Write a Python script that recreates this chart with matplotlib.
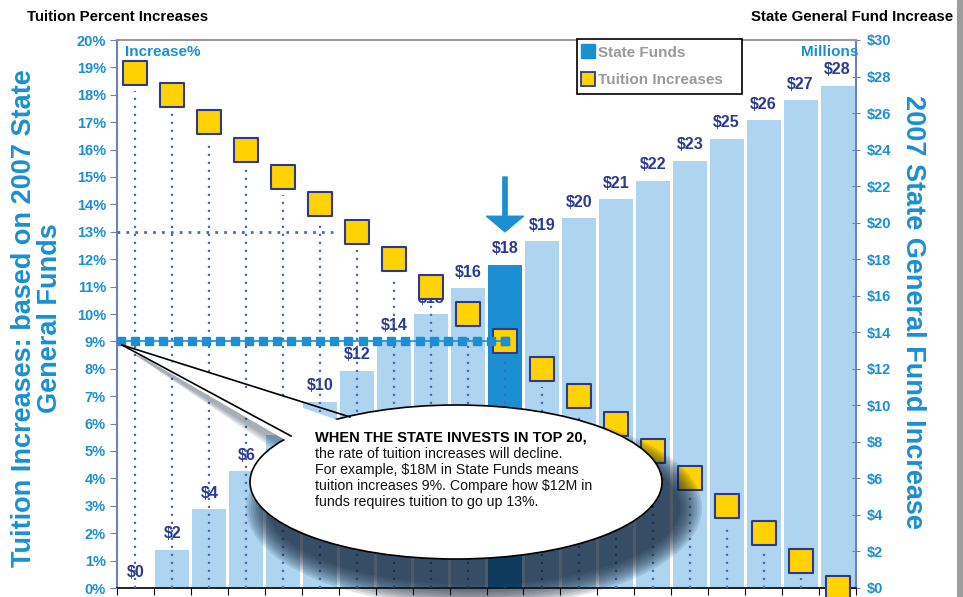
import numpy as np
import matplotlib
matplotlib.use("Agg")
import matplotlib.pyplot as plt
from matplotlib.patches import Ellipse, Polygon, Rectangle
from matplotlib.lines import Line2D

# ---------------- data ----------------
categories = list(range(20))
state_funds = [0, 2.1, 4.3, 6.4, 8.4, 10.2, 11.9, 13.5, 15.0, 16.4,
               17.7, 19.0, 20.25, 21.3, 22.3, 23.4, 24.6, 25.6, 26.7, 27.5]
fund_labels = ["$0", "$2", "$4", "$6", "$8", "$10", "$12", "$14", "$15", "$16",
               "$18", "$19", "$20", "$21", "$22", "$23", "$25", "$26", "$27", "$28"]
tuition_pct = [18.8, 18, 17, 16, 15, 14, 13, 12, 11, 10,
               9, 8, 7, 6, 5, 4, 3, 2, 1, 0]
highlight_idx = 10
left_ticks = list(range(0, 21))
left_tick_labels = [f"{v}%" for v in left_ticks]
right_ticks = list(range(0, 31, 2))
right_tick_labels = [f"${v}" for v in right_ticks]

# ---------------- style ----------------
BLUE = "#1B8FD2"
LIGHT = "#AED4F0"
NAVY = "#2B3990"
YELLOW = "#FFD200"
DOT = "#4A6CB8"
FONT = "Liberation Sans"
plt.rcParams["font.family"] = [FONT, "DejaVu Sans"]

W, H = 963, 597
fig = plt.figure(figsize=(W / 100, H / 100), dpi=100)
fig.patch.set_facecolor("white")

def fx(px):
    return px / W

def fy(py):
    return 1 - py / H

L, R, T, B = 117, 856, 40, 588
ax = fig.add_axes([fx(L), fy(B), fx(R) - fx(L), fy(T) - fy(B)])
ax2 = ax.twinx()

# bars ($ millions) on ax
colors = [BLUE if i == highlight_idx else LIGHT for i in categories]
ax.bar(categories, state_funds, width=0.92, color=colors, zorder=1)
ax.set_ylim(0, 30)
ax.set_xlim(-0.5, 19.5)
for i, (v, lab) in enumerate(zip(state_funds, fund_labels)):
    ax.text(i, v + 0.45, lab, ha="center", va="bottom", color=NAVY,
            fontsize=11.5, fontweight="bold", zorder=3)

ax.yaxis.tick_right()
ax.set_yticks(right_ticks)
ax.set_yticklabels(right_tick_labels, color=BLUE, fontsize=10.5, fontweight="bold")
ax.tick_params(axis="y", direction="inout", length=6, color="#7080B8", pad=5)
ax.set_xticks(np.arange(-0.5, 20, 1))
ax.set_xticklabels([])
ax.tick_params(axis="x", direction="out", length=5, color="black")

for s in ["left", "right"]:
    ax.spines[s].set_color("#7080B8")
    ax.spines[s].set_linewidth(1.5)
ax.spines["top"].set_color("#9A9A9A")
ax.spines["top"].set_linewidth(1.5)
ax.spines["bottom"].set_color("black")
ax.spines["bottom"].set_linewidth(1.2)

# tuition markers on ax2 (percent)
ax2.set_ylim(0, 20)
ax2.set_xlim(-0.5, 19.5)
ax2.yaxis.tick_left()
ax2.set_yticks(left_ticks)
ax2.set_yticklabels(left_tick_labels, color=BLUE, fontsize=10.5, fontweight="bold")
ax2.tick_params(axis="y", direction="out", length=5, color="#7080B8", pad=3)
for s in ax2.spines.values():
    s.set_visible(False)

for i, v in enumerate(tuition_pct):
    if v > 0.8:
        ax2.plot([i, i], [0, v - 0.65], color=DOT, lw=1.6,
                 linestyle=(0, (1, 2.6)), zorder=2)

# 13% guide
ax2.plot([-0.5, 5.34], [13, 13], color=DOT, lw=2, linestyle=(0, (1, 2.2)), zorder=2)
# 9% guide with squares
xs9 = np.linspace(-0.4, highlight_idx, 28)
ax2.plot(xs9, np.full_like(xs9, 9.0), color=BLUE, lw=1.2, marker="s",
         markersize=6, zorder=5)

ax2.scatter(categories, tuition_pct, marker="s", s=300, c=YELLOW,
            edgecolors=NAVY, linewidths=1.5, zorder=4, clip_on=False)
ax2.plot([highlight_idx], [9], marker="s", color=BLUE, markersize=6, zorder=6)

# arrow over highlighted bar
ax2.annotate("", xy=(highlight_idx, 13.0), xytext=(highlight_idx, 15.0),
             arrowprops=dict(arrowstyle="simple,head_width=1.9,head_length=0.8,tail_width=0.22",
                             color=BLUE, mutation_scale=14, shrinkA=0, shrinkB=0),
             zorder=6)

ax2.text(-0.28, 19.56, "Increase%", color=BLUE, fontsize=11, fontweight="bold",
         va="center", ha="left", transform=ax2.transData)
ax.text(1.003, 0.978, "Millions", color=BLUE, fontsize=11, fontweight="bold",
        va="center", ha="right", transform=ax.transAxes, zorder=5)

# legend
handles = [Line2D([], [], marker="s", linestyle="none", markersize=10,
                  markerfacecolor=BLUE, markeredgecolor=BLUE),
           Line2D([], [], marker="s", linestyle="none", markersize=10,
                  markerfacecolor=YELLOW, markeredgecolor=NAVY, markeredgewidth=1.3)]
leg = fig.legend(handles, ["State Funds", "Tuition Increases   "], loc="upper left",
                 bbox_to_anchor=(fx(577), fy(39)), bbox_transform=fig.transFigure,
                 frameon=True, fancybox=False, edgecolor="black", framealpha=1,
                 handlelength=0.6, handletextpad=0.3, borderpad=0.45,
                 labelspacing=0.85, borderaxespad=0, handleheight=0.8,
                 prop={"family": FONT, "weight": "bold", "size": 11})
leg.get_frame().set_linewidth(1.2)
leg.set_zorder(8)
for t in leg.get_texts():
    t.set_color("#9A9A9A")

# titles and axis labels
fig.text(fx(27), fy(17), "Tuition Percent Increases", fontsize=10.8, fontweight="bold",
         ha="left", va="center", color="black")
fig.text(fx(953), fy(17), "State General Fund Increase", fontsize=10.8, fontweight="bold",
         ha="right", va="center", color="black")
fig.text(fx(37), fy(318), "Tuition Increases: based on 2007 State\nGeneral Funds",
         rotation=90, ha="center", va="center", color=BLUE, fontsize=19.5,
         fontweight="bold", linespacing=0.98)
fig.text(fx(913), fy(312), "2007 State General Fund Increase", rotation=-90,
         ha="center", va="center", color=BLUE, fontsize=19.5, fontweight="bold")

# right gray border strip
fig.add_artist(Rectangle((fx(957), 0), 1 - fx(957), 1, transform=fig.transFigure,
                         facecolor="#9C9C9C", edgecolor="none", zorder=0))

# callout with shadow
ecx, ecy, ew, eh = 456, 482, 412, 154
tip = (122, 345)
b1 = (352, 425)
b2 = (292, 444)

for g in np.linspace(44, 0, 10):
    e = Ellipse((fx(ecx + 18), fy(ecy + 26)), (ew + g) / W, (eh + g) / H,
                transform=fig.transFigure, facecolor="#0E1E33", edgecolor="none",
                alpha=0.12, zorder=9)
    fig.add_artist(e)
for k in range(6):
    off = 6 + 3 * k
    p = Polygon([(fx(tip[0] + 10), fy(tip[1] + 8)),
                 (fx(b1[0] + off), fy(b1[1] + off + 10)),
                 (fx(b2[0] + off * 0.5), fy(b2[1] + off + 4))], closed=True,
                transform=fig.transFigure, facecolor="#0E1E33", edgecolor="none",
                alpha=0.07, zorder=9)
    fig.add_artist(p)

ell = Ellipse((fx(ecx), fy(ecy)), ew / W, eh / H, transform=fig.transFigure,
              facecolor="white", edgecolor="black", linewidth=1.2, zorder=10)
fig.add_artist(ell)
tail = Polygon([(fx(tip[0]), fy(tip[1])), (fx(b1[0]), fy(b1[1])), (fx(b2[0]), fy(b2[1]))],
               closed=True, transform=fig.transFigure, facecolor="white",
               edgecolor="none", zorder=11)
fig.add_artist(tail)
fig.add_artist(Line2D([fx(tip[0]), fx(350)], [fy(tip[1]), fy(417)],
                      transform=fig.transFigure, color="black", lw=1.2, zorder=12))
fig.add_artist(Line2D([fx(tip[0]), fx(291)], [fy(tip[1]), fy(436)],
                      transform=fig.transFigure, color="black", lw=1.2, zorder=12))

fig.text(fx(315), fy(438), "WHEN THE STATE INVESTS IN TOP 20,", fontsize=10.5,
         fontweight="bold", ha="left", va="center", color="black", zorder=13)
fig.text(fx(315), fy(447),
         "the rate of tuition increases will decline.\n"
         "For example, $18M in State Funds means\n"
         "tuition increases 9%. Compare how $12M in\n"
         "funds requires tuition to go up 13%.",
         fontsize=10.2, ha="left", va="top", color="#111111", zorder=13,
         linespacing=1.17)

fig.savefig("out.png", dpi=100)
